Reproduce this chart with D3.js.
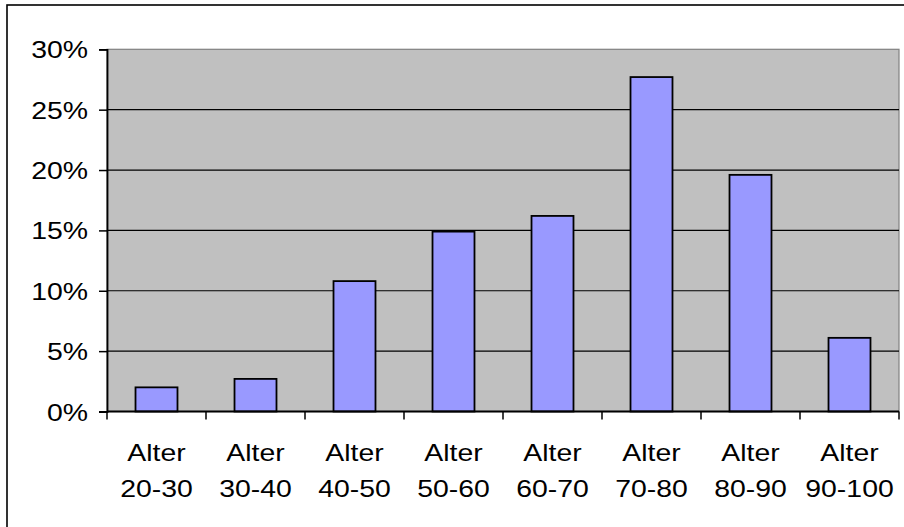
<!DOCTYPE html>
<html><head><meta charset="utf-8">
<script src="https://cdn.jsdelivr.net/npm/d3@7"></script>
<style>html,body{margin:0;padding:0;background:#fff;}svg{display:block;}</style>
</head><body>
<script>
const categories1 = ["Alter","Alter","Alter","Alter","Alter","Alter","Alter","Alter"];
const categories2 = ["20-30","30-40","40-50","50-60","60-70","70-80","80-90","90-100"];
const values = [2.0, 2.7, 10.8, 14.9, 16.2, 27.7, 19.6, 6.1];
const yTicks = [0, 5, 10, 15, 20, 25, 30];

(function () {
const W = 904, H = 527;
const svg = d3.select("body").append("svg").attr("width", W).attr("height", H);

// outer border
svg.append("rect").attr("x", 7).attr("y", 5).attr("width", 905).attr("height", 540)
  .attr("fill", "none").attr("stroke", "#000").attr("stroke-width", 1.6);

const pLeft = 107, pRight = 899, pTop = 49.3, pBottom = 411.5;
const x = d3.scaleBand().domain(d3.range(categories2.length)).range([pLeft, pRight])
  .paddingInner(0.576).paddingOuter(0.288);
const xb = d3.scaleBand().domain(d3.range(categories2.length)).range([pLeft, pRight]).padding(0);
const y = d3.scaleLinear().domain([0, 30]).range([pBottom, pTop]);

// plot area
svg.append("rect").attr("x", pLeft).attr("y", pTop).attr("width", pRight - pLeft).attr("height", pBottom - pTop)
  .attr("fill", "#C0C0C0").attr("stroke", "#808080").attr("stroke-width", 1.2);

// gridlines
svg.append("g").selectAll("line").data(yTicks.filter(d => d > 0 && d < 30)).join("line")
  .attr("x1", pLeft).attr("x2", pRight).attr("y1", d => y(d)).attr("y2", d => y(d))
  .attr("stroke", "#000").attr("stroke-width", 1.2);

// bars
svg.append("g").selectAll("rect").data(values).join("rect")
  .attr("x", (d, i) => x(i)).attr("width", x.bandwidth())
  .attr("y", d => y(d)).attr("height", d => y(0) - y(d))
  .attr("fill", "#9999FF").attr("stroke", "#000").attr("stroke-width", 1.8);

// y axis
const yAxis = d3.axisLeft(y).tickValues(yTicks).tickFormat(d => d + "%").tickSize(8).tickPadding(11);
const gy = svg.append("g").attr("transform", `translate(${pLeft},0)`).call(yAxis);
gy.select(".domain").attr("stroke", "#000").attr("stroke-width", 1.8);
gy.selectAll(".tick line").attr("stroke", "#000").attr("stroke-width", 1.5);
gy.selectAll(".tick text").attr("font-family", "Liberation Sans, Arial, sans-serif")
  .attr("font-size", 24.5).attr("fill", "#000").attr("dy", "0.35em")
  .attr("transform", "scale(1.16,1)")
  .attr("x", -19 / 1.16);

// x axis line and ticks
svg.append("line").attr("x1", pLeft).attr("x2", pRight).attr("y1", pBottom).attr("y2", pBottom)
  .attr("stroke", "#000").attr("stroke-width", 1.8);
const bounds = d3.range(categories2.length + 1).map(i => i < categories2.length ? xb(i) : pRight);
svg.append("g").selectAll("line").data(bounds).join("line")
  .attr("x1", d => d).attr("x2", d => d).attr("y1", pBottom).attr("y2", pBottom + 8)
  .attr("stroke", "#000").attr("stroke-width", 1.5);

// x labels
const lbl = svg.append("g").selectAll("g").data(categories2).join("g")
  .attr("transform", (d, i) => `translate(${xb(i) + xb.bandwidth() / 2},0) scale(1.16,1)`);
lbl.append("text").attr("y", 460.7).attr("text-anchor", "middle")
  .attr("font-family", "Liberation Sans, Arial, sans-serif").attr("font-size", 24.5)
  .text((d, i) => categories1[i]);
lbl.append("text").attr("y", 496.7).attr("text-anchor", "middle")
  .attr("font-family", "Liberation Sans, Arial, sans-serif").attr("font-size", 24.5)
  .text(d => d);
})();
</script>
</body></html>
